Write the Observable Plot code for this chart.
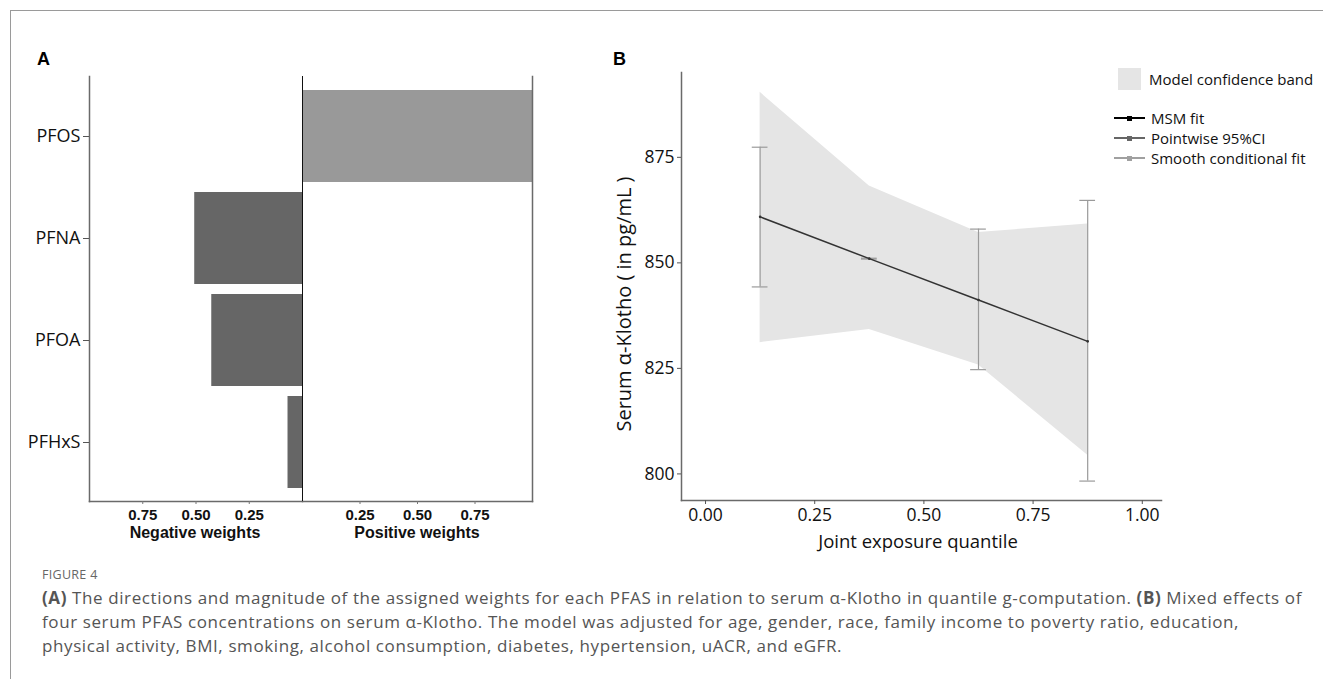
<!DOCTYPE html>
<html><head><meta charset="utf-8">
<script src="https://cdn.jsdelivr.net/npm/d3@7"></script>
<script src="https://cdn.jsdelivr.net/npm/@observablehq/plot@0.6"></script>
<style>
body{margin:0;background:#fff;width:1323px;height:679px;overflow:hidden;font-family:"Open Sans",sans-serif;}
#page{position:relative;width:1323px;height:679px;overflow:hidden;}
.frame{position:absolute;left:10px;top:10px;width:1340px;height:700px;border-left:1.5px solid #9a9a9a;border-top:1.5px solid #9a9a9a;}
.abs{position:absolute;white-space:nowrap;}
.plot{position:absolute;}
.plot svg{overflow:visible;}
.panel{font-family:"Liberation Sans",Arial,sans-serif;font-weight:bold;font-size:18px;color:#000;}
.wlab{font-family:"Liberation Sans",Arial,sans-serif;font-weight:bold;font-size:16px;color:#111;transform:translate(-50%,-50%);}
.leg{font-size:15px;color:#111;transform:translateY(-50%);}
.cap{left:42px;font-size:17px;letter-spacing:0.6px;color:#555;transform:translateY(-50%);}
</style></head>
<body><div id="page">
<div class="frame"></div>
<div class="abs panel" style="left:37px;top:49px;">A</div>
<div class="abs panel" style="left:613px;top:49px;">B</div>
<div id="aneg" class="plot" style="left:0px;top:40px;"></div>
<div id="apos" class="plot" style="left:302px;top:40px;"></div>
<div class="abs wlab" style="left:195px;top:533px;">Negative weights</div>
<div class="abs wlab" style="left:417px;top:533px;">Positive weights</div>
<div id="b" class="plot" style="left:600px;top:40px;"></div>
<div class="abs" style="left:623px;top:304px;font-size:20px;color:#111;transform:translate(-50%,-50%) rotate(-90deg);">Serum α-Klotho ( in pg/mL )</div>
<div class="abs" style="left:918px;top:540px;font-size:18.5px;color:#111;transform:translate(-50%,-50%);">Joint exposure quantile</div>
<div id="legend"></div>
<div class="abs" style="left:42px;top:574px;font-size:12.5px;color:#666;letter-spacing:0.3px;transform:translateY(-50%);">FIGURE 4</div>
<div class="abs cap" style="top:597px;"><b>(A)</b> The directions and magnitude of the assigned weights for each PFAS in relation to serum α-Klotho in quantile g-computation. <b>(B)</b> Mixed effects of</div>
<div class="abs cap" style="top:621px;">four serum PFAS concentrations on serum α-Klotho. The model was adjusted for age, gender, race, family income to poverty ratio, education,</div>
<div class="abs cap" style="top:645px;">physical activity, BMI, smoking, alcohol consumption, diabetes, hypertension, uACR, and eGFR.</div>
</div>
<script>
// ---- Panel A data ----
const pfas = ["PFOS", "PFNA", "PFOA", "PFHxS"];
const weightSign = ["positive", "negative", "negative", "negative"];
const weights = [1.0, 0.506, 0.426, 0.068];
const weightTicks = [0.25, 0.5, 0.75];

// ---- Panel B data ----
const quantiles = [0.125, 0.375, 0.625, 0.875];
const msmFit = [860.9, 851.0, 841.2, 831.4];
const ciLow = [844.3, 850.9, 824.7, 798.3];
const ciHigh = [877.4, 851.1, 858.0, 864.8];
const bandLow = [831.1, 834.2, 825.8, 804.4];
const bandHigh = [890.4, 868.2, 857.2, 859.2];
const yTicks = [800, 825, 850, 875];
const xTicks = [0, 0.25, 0.5, 0.75, 1];

// ---- Legend ----
const legendLines = ["MSM fit", "Pointwise 95%CI", "Smooth conditional fit"];
const legendColors = ["#000000", "#666666", "#a0a0a0"];

const aRows = pfas.map((p, i) => ({p, w: weights[i], sign: weightSign[i]}));
const fmt2 = d3.format(".2f");
const baseStyle = {fontFamily: "'Open Sans', sans-serif", fontSize: "17px", color: "#222", background: "transparent", overflow: "visible"};
const yBand = {domain: pfas, paddingInner: 0.1, paddingOuter: 0.133};
const wTickFont = {fontSize: 15, fontWeight: "bold", fontFamily: "'Liberation Sans', Arial, sans-serif", fill: "#111", stroke: "#777"};

const aNeg = Plot.plot({
  width: 302, height: 510, marginLeft: 89, marginRight: 0, marginTop: 36, marginBottom: 49,
  style: baseStyle,
  x: {domain: [0, 1], reverse: true},
  y: yBand,
  marks: [
    Plot.barX(aRows.filter(d => d.sign === "negative"), {x: "w", y: "p", fill: "#666666"}),
    Plot.frame({anchor: "left", stroke: "#6a6a6a", strokeWidth: 1.5}),
    Plot.frame({anchor: "bottom", stroke: "#6a6a6a", strokeWidth: 1.5}),
    Plot.ruleX([0], {stroke: "#111", strokeWidth: 1}),
    Plot.axisX({ticks: weightTicks, tickFormat: fmt2, tickSize: 3, tickPadding: 5, ...wTickFont, label: null}),
    Plot.axisY({tickSize: 6, tickPadding: 3, fontSize: 18, fill: "#111", stroke: "#555", label: null})
  ]
});
document.getElementById("aneg").append(aNeg);

const aPos = Plot.plot({
  width: 232, height: 510, marginLeft: 0, marginRight: 2, marginTop: 36, marginBottom: 49,
  style: baseStyle,
  x: {domain: [0, 1]},
  y: {...yBand, axis: null},
  marks: [
    Plot.barX(aRows.filter(d => d.sign === "positive"), {x: "w", y: "p", fill: "#999999"}),
    Plot.frame({anchor: "right", stroke: "#6a6a6a", strokeWidth: 1.5}),
    Plot.frame({anchor: "bottom", stroke: "#6a6a6a", strokeWidth: 1.5}),
    Plot.ruleX([0], {stroke: "#111", strokeWidth: 1}),
    Plot.axisX({ticks: weightTicks, tickFormat: fmt2, tickSize: 3, tickPadding: 5, ...wTickFont, label: null})
  ]
});
document.getElementById("apos").append(aPos);

const bRows = quantiles.map((q, i) => ({q, fit: msmFit[i], lo: ciLow[i], hi: ciHigh[i], bl: bandLow[i], bh: bandHigh[i]}));
const capHalf = 0.018;
const bPlot = Plot.plot({
  width: 580, height: 530, marginLeft: 81, marginRight: 19, marginTop: 32, marginBottom: 70,
  style: {...baseStyle, fontSize: "17px"},
  x: {domain: [-0.055, 1.044]},
  y: {domain: [793.7, 895.1]},
  marks: [
    Plot.areaY(bRows, {x: "q", y1: "bl", y2: "bh", fill: "#e5e5e5"}),
    Plot.ruleX(bRows, {x: "q", y1: "lo", y2: "hi", stroke: "#9a9a9a", strokeWidth: 1.2}),
    Plot.ruleY(bRows, {y: "lo", x1: d => d.q - capHalf, x2: d => d.q + capHalf, stroke: "#9a9a9a", strokeWidth: 1.2}),
    Plot.ruleY(bRows, {y: "hi", x1: d => d.q - capHalf, x2: d => d.q + capHalf, stroke: "#9a9a9a", strokeWidth: 1.2}),
    Plot.lineY(bRows, {x: "q", y: "fit", stroke: "#333", strokeWidth: 1.5}),
    Plot.dot(bRows, {x: "q", y: "fit", r: 1.3, fill: "#333"}),
    Plot.frame({anchor: "left", stroke: "#6a6a6a", strokeWidth: 1.5}),
    Plot.frame({anchor: "bottom", stroke: "#6a6a6a", strokeWidth: 1.5}),
    Plot.axisY({ticks: yTicks, tickSize: 4, tickPadding: 3, fontSize: 17.5, fill: "#111", stroke: "#555", label: null}),
    Plot.axisX({ticks: xTicks, tickFormat: fmt2, tickSize: 4, tickPadding: 4, fontSize: 17.5, fill: "#111", stroke: "#555", label: null})
  ]
});
document.getElementById("b").append(bPlot);

// legend
const leg = document.getElementById("legend");
leg.innerHTML =
  `<div class="abs" style="left:1118px;top:68px;width:23px;height:22px;background:#e5e5e5;"></div>` +
  `<div class="abs leg" style="left:1149px;top:79px;">Model confidence band</div>` +
  legendLines.map((t, i) => {
    const y = 118 + i * 20;
    return `<div class="abs" style="left:1114px;top:${y - 1}px;width:31px;height:2px;background:${legendColors[i]};"></div>` +
      `<div class="abs" style="left:1127px;top:${y - 2.5}px;width:5px;height:5px;background:${legendColors[i]};"></div>` +
      `<div class="abs leg" style="left:1151px;top:${y}px;">${t}</div>`;
  }).join("");
</script>
</body></html>
